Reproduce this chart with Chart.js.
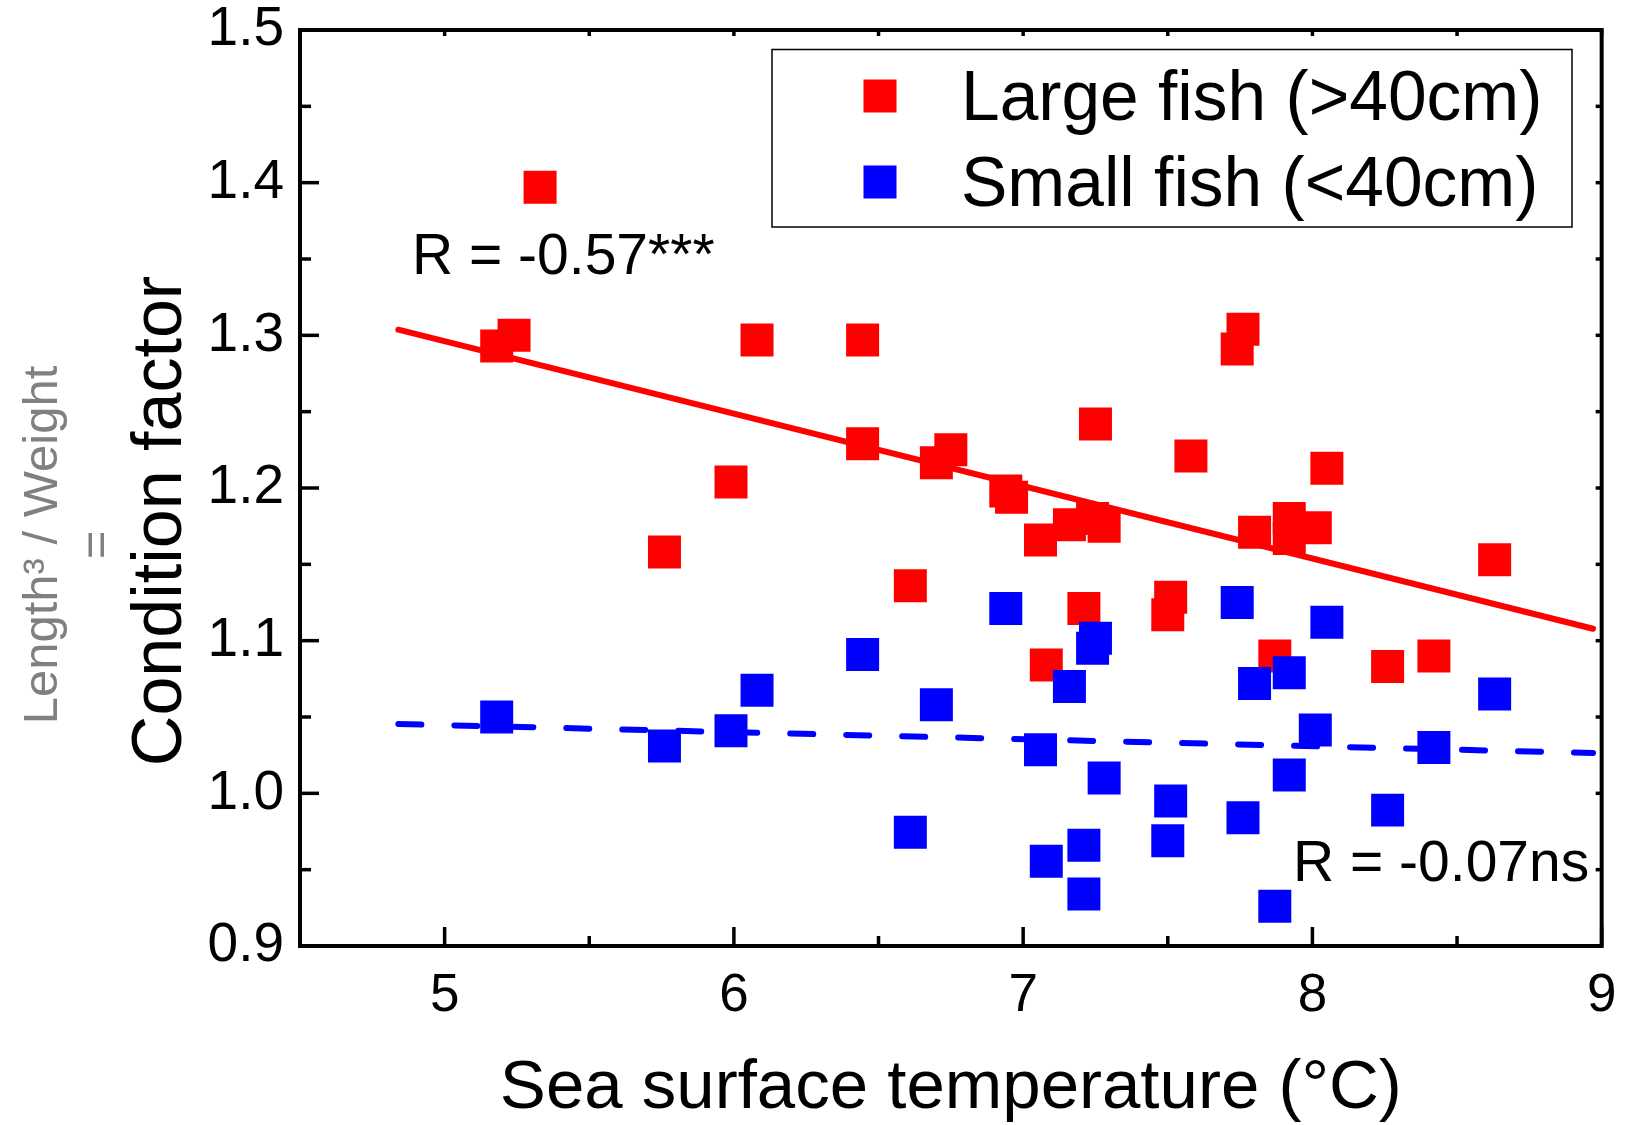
<!DOCTYPE html>
<html>
<head>
<meta charset="utf-8">
<script src="https://cdn.jsdelivr.net/npm/chart.js@4.4.1/dist/chart.umd.min.js"></script>
<style>
html, body { margin: 0; padding: 0; background: #ffffff; }
#wrap { position: relative; width: 1625px; height: 1125px; }
</style>
</head>
<body>
<div id="wrap"><canvas id="c"></canvas></div>
<script>
// ---------------- data ----------------
const seriesNames = ['Large fish (>40cm)', 'Small fish (<40cm)'];

const largeTemp = [5.18, 5.24, 5.33, 5.76, 5.99, 6.08, 6.445, 6.445, 6.61, 6.70, 6.75, 6.94, 6.96, 7.06, 7.08, 7.16, 7.21, 7.24, 7.25, 7.28, 7.50, 7.51, 7.58, 7.74, 7.76, 7.80, 7.87, 7.92, 7.92, 8.01, 8.05, 8.26, 8.42, 8.63];
const largeCond = [1.293, 1.300, 1.397, 1.158, 1.204, 1.297, 1.297, 1.229, 1.136, 1.2165, 1.225, 1.198, 1.194, 1.166, 1.084, 1.176, 1.121, 1.180, 1.242, 1.175, 1.117, 1.1285, 1.221, 1.291, 1.304, 1.171, 1.090, 1.180, 1.167, 1.174, 1.213, 1.083, 1.090, 1.153];

const smallTemp = [5.18, 5.76, 5.99, 6.08, 6.445, 6.61, 6.70, 6.94, 7.06, 7.08, 7.16, 7.21, 7.21, 7.24, 7.25, 7.28, 7.50, 7.51, 7.74, 7.76, 7.80, 7.87, 7.92, 7.92, 8.01, 8.05, 8.26, 8.42, 8.63];
const smallCond = [1.050, 1.031, 1.041, 1.0675, 1.091, 0.9745, 1.058, 1.121, 1.0285, 0.9555, 1.070, 0.966, 0.934, 1.095, 1.1016, 1.010, 0.969, 0.995, 1.125, 0.984, 1.072, 0.926, 1.079, 1.012, 1.0415, 1.112, 0.989, 1.030, 1.065];

const largeFitTemp = [4.84, 8.97];
const largeFitCond = [1.3037, 1.1078];
const smallFitTemp = [4.84, 8.97];
const smallFitCond = [1.0454, 1.0264];

const rLabels = ['R = -0.57***', 'R = -0.07ns'];

const xTicks = [5, 6, 7, 8, 9];
const xTickLabels = ['5', '6', '7', '8', '9'];
const xMinorTicks = [4.5, 5.5, 6.5, 7.5, 8.5];
const yTicks = [0.9, 1.0, 1.1, 1.2, 1.3, 1.4, 1.5];
const yTickLabels = ['0.9', '1.0', '1.1', '1.2', '1.3', '1.4', '1.5'];
const yMinorTicks = [0.95, 1.05, 1.15, 1.25, 1.35, 1.45];

const xTitle = 'Sea surface temperature (°C)';
const yTitle = 'Condition factor';
const yTitleGray = 'Length³ / Weight';

// ---------------- styling ----------------
const FONT = '"Liberation Sans", Arial, Helvetica, sans-serif';
const RED = '#ff0000';
const BLUE = '#0000ff';

const toPts = (xs, ys) => xs.map((v, i) => ({ x: v, y: ys[i] }));

const frameAndTicks = {
  id: 'frameAndTicks',
  afterDatasetsDraw(chart) {
    const { ctx, chartArea: a, scales } = chart;
    const sx = scales.x, sy = scales.y;
    ctx.save();
    ctx.strokeStyle = '#000';
    ctx.lineCap = 'butt';
    ctx.lineWidth = 3.5;
    const seg = (x1, y1, x2, y2) => { ctx.beginPath(); ctx.moveTo(x1, y1); ctx.lineTo(x2, y2); ctx.stroke(); };
    xTicks.forEach(v => { const p = sx.getPixelForValue(v); seg(p, a.bottom, p, a.bottom - 19); seg(p, a.top, p, a.top + 6); });
    xMinorTicks.forEach(v => { const p = sx.getPixelForValue(v); seg(p, a.bottom, p, a.bottom - 10); seg(p, a.top, p, a.top + 6); });
    yTicks.forEach(v => { const p = sy.getPixelForValue(v); seg(a.left, p, a.left + 19, p); seg(a.right, p, a.right - 6, p); });
    yMinorTicks.forEach(v => { const p = sy.getPixelForValue(v); seg(a.left, p, a.left + 11, p); seg(a.right, p, a.right - 6, p); });
    ctx.lineWidth = 4;
    ctx.strokeRect(a.left, a.top, a.right - a.left, a.bottom - a.top);
    ctx.restore();
  }
};

const textsAndLegend = {
  id: 'textsAndLegend',
  afterDraw(chart) {
    const { ctx, chartArea: a } = chart;
    ctx.save();
    // R annotations
    ctx.fillStyle = '#000';
    ctx.textAlign = 'left';
    ctx.textBaseline = 'alphabetic';
    ctx.font = '57px ' + FONT;
    ctx.fillText(rLabels[0], a.left + 112, a.top + 244);
    ctx.fillText(rLabels[1], a.left + 993, a.top + 851);

    // legend box
    ctx.lineWidth = 1.5;
    ctx.strokeStyle = '#000';
    ctx.strokeRect(a.left + 472, a.top + 19.5, 800, 177.5);
    const ds = chart.data.datasets;
    ctx.font = '69.5px ' + FONT;
    [0, 1].forEach(i => {
      const cy = a.top + 66 + i * 86;
      ctx.fillStyle = ds[i].backgroundColor;
      ctx.fillRect(a.left + 563.5, cy - 16.5, 33, 33);
      ctx.fillStyle = '#000';
      ctx.fillText(ds[i].label, a.left + 661, cy + 24);
    });

    // y-axis titles (rotated)
    ctx.textAlign = 'center';
    ctx.save();
    ctx.translate(181, 521);
    ctx.rotate(-Math.PI / 2);
    ctx.fillStyle = '#000';
    ctx.font = '70px ' + FONT;
    ctx.fillText(yTitle, 0, 0);
    ctx.restore();

    ctx.save();
    ctx.translate(57, 545);
    ctx.rotate(-Math.PI / 2);
    ctx.fillStyle = '#808080';
    ctx.font = '49px ' + FONT;
    ctx.fillText(yTitleGray, 0, 0);
    ctx.restore();

    ctx.save();
    ctx.translate(112, 545);
    ctx.rotate(-Math.PI / 2);
    ctx.fillStyle = '#808080';
    ctx.font = '49px ' + FONT;
    ctx.fillText('=', 0, 0);
    ctx.restore();

    ctx.restore();
  }
};

new Chart(document.getElementById('c'), {
  type: 'scatter',
  data: {
    datasets: [
      {
        label: seriesNames[0],
        data: toPts(largeTemp, largeCond),
        backgroundColor: RED, borderColor: RED,
        pointStyle: 'rect', pointRadius: 23.33, pointHoverRadius: 23.33, pointBorderWidth: 0,
        order: 4
      },
      {
        label: seriesNames[1],
        data: toPts(smallTemp, smallCond),
        backgroundColor: BLUE, borderColor: BLUE,
        pointStyle: 'rect', pointRadius: 23.33, pointHoverRadius: 23.33, pointBorderWidth: 0,
        order: 3
      },
      {
        type: 'line',
        label: 'fit large',
        data: toPts(largeFitTemp, largeFitCond),
        borderColor: RED, borderWidth: 6, borderCapStyle: 'round',
        pointRadius: 0, fill: false, tension: 0,
        order: 2
      },
      {
        type: 'line',
        label: 'fit small',
        data: toPts(smallFitTemp, smallFitCond),
        borderColor: BLUE, borderWidth: 6, borderCapStyle: 'round', borderDash: [23, 33],
        pointRadius: 0, fill: false, tension: 0,
        order: 1
      }
    ]
  },
  options: {
    responsive: true,
    maintainAspectRatio: false,
    animation: false,
    layout: { padding: { top: 30, right: 20, left: 0, bottom: 0 } },
    plugins: { legend: { display: false }, tooltip: { enabled: false } },
    scales: {
      x: {
        type: 'linear', min: 4.5, max: 9,
        afterBuildTicks: s => { s.ticks = xTicks.map(v => ({ value: v })); },
        afterFit: s => { s.height = 179; s.paddingLeft = 0; s.paddingRight = 0; },
        grid: { display: false, drawTicks: false },
        border: { display: false },
        ticks: {
          callback: (v, i) => xTickLabels[i],
          font: { family: FONT, size: 53, lineHeight: 1 },
          color: '#000', padding: 24, maxRotation: 0, autoSkip: false
        },
        title: {
          display: true, text: xTitle, color: '#000',
          font: { family: FONT, size: 69, lineHeight: 1 },
          padding: { top: 0, bottom: 1.5 }
        }
      },
      y: {
        type: 'linear', min: 0.9, max: 1.5,
        afterBuildTicks: s => { s.ticks = yTicks.map(v => ({ value: v })); },
        afterFit: s => { s.width = 300; s.paddingTop = 0; s.paddingBottom = 0; },
        grid: { display: false, drawTicks: false },
        border: { display: false },
        ticks: {
          callback: (v, i) => yTickLabels[i],
          font: { family: FONT, size: 55, lineHeight: 1 },
          color: '#000', padding: 16, autoSkip: false
        }
      }
    }
  },
  plugins: [frameAndTicks, textsAndLegend]
});
</script>
</body>
</html>
